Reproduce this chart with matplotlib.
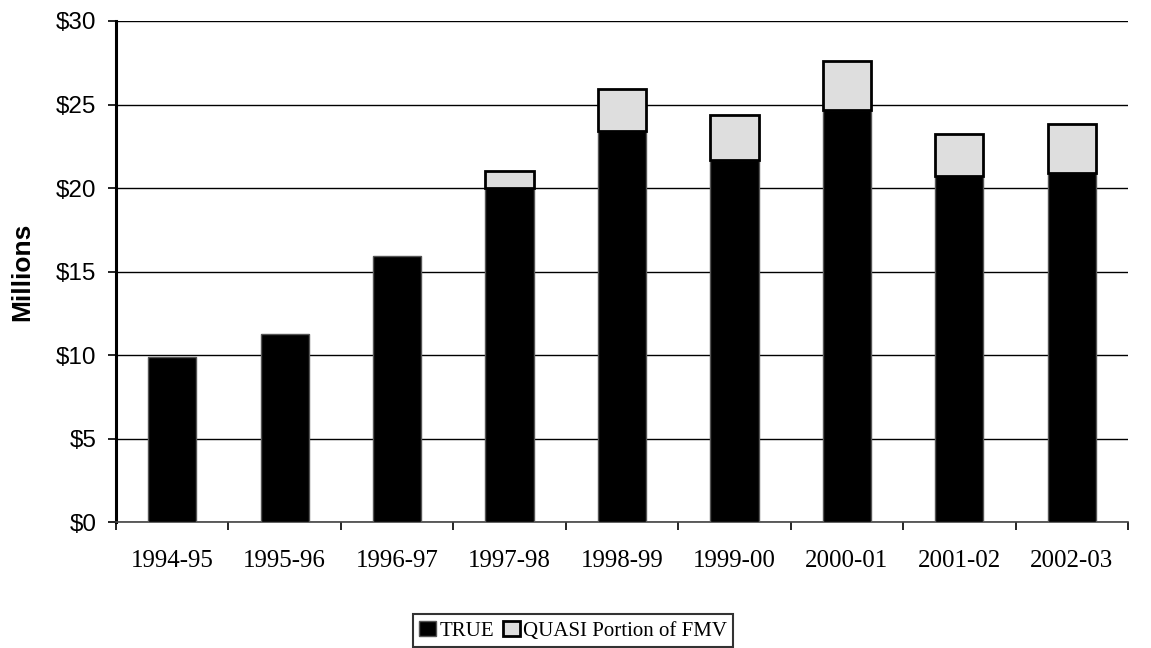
import matplotlib
matplotlib.use("Agg")
import matplotlib.pyplot as plt
import numpy as np

categories = ["1994-95", "1995-96", "1996-97", "1997-98", "1998-99",
              "1999-00", "2000-01", "2001-02", "2002-03"]
true_vals = [9.87, 11.25, 15.9, 20.0, 23.4, 21.65, 24.7, 20.7, 20.9]
quasi_vals = [0.0, 0.0, 0.0, 1.0, 2.55, 2.7, 2.9, 2.55, 2.95]
yticks = [0, 5, 10, 15, 20, 25, 30]
ytick_labels = ["$0", "$5", "$10", "$15", "$20", "$25", "$30"]

fig = plt.figure(figsize=(11.51, 6.48), dpi=100)
ax = fig.add_axes([0.1008, 0.1944, 0.8792, 0.7732])

x = np.arange(len(categories))
w = 0.43
ax.bar(x, true_vals, width=w, color="black", edgecolor="#555555", linewidth=1.0,
       label="TRUE", zorder=3)
qx = [xi for xi, q in zip(x, quasi_vals) if q > 0]
qb = [t for t, q in zip(true_vals, quasi_vals) if q > 0]
qh = [q for q in quasi_vals if q > 0]
ax.bar(qx, qh, bottom=qb, width=w, color="#dedede", edgecolor="black",
       linewidth=2.0, label="QUASI Portion of FMV", zorder=3)

ax.set_xlim(-0.5, len(categories) - 0.5)
ax.set_ylim(0, 30)
ax.set_yticks(yticks)
ax.set_yticklabels(ytick_labels, family="Liberation Sans", fontsize=17.5)
ax.yaxis.grid(True, color="black", linewidth=1.0, zorder=0)
ax.set_axisbelow(True)

ax.set_xticks(x)
ax.set_xticklabels(categories, family="Liberation Serif", fontsize=18)
ax.set_xticks(np.arange(-0.5, len(categories)), minor=True)
ax.tick_params(axis="x", which="major", length=0, pad=20)
ax.tick_params(axis="x", which="minor", length=6, width=1.2, direction="out")
ax.tick_params(axis="y", length=6, width=1.2, direction="out", pad=8)

for s in ["top", "right"]:
    ax.spines[s].set_visible(False)
ax.spines["left"].set_linewidth(2.2)
ax.spines["bottom"].set_linewidth(1.2)
ax.spines["bottom"].set_color("#444444")

ax.set_ylabel("Millions", family="Liberation Sans", fontsize=19,
              fontweight="bold")
ax.yaxis.set_label_coords(-0.081, 0.5)

leg = fig.legend(loc="lower center", bbox_to_anchor=(0.498, 0.0), ncol=2,
                 frameon=True, fancybox=False, edgecolor="black",
                 prop={"family": "Liberation Serif", "size": 15},
                 handlelength=0.8, handleheight=0.8, handletextpad=0.15,
                 columnspacing=0.45, borderpad=0.3, borderaxespad=0.05)
leg.get_frame().set_linewidth(1.5)

fig.savefig("out.png", dpi=100)
